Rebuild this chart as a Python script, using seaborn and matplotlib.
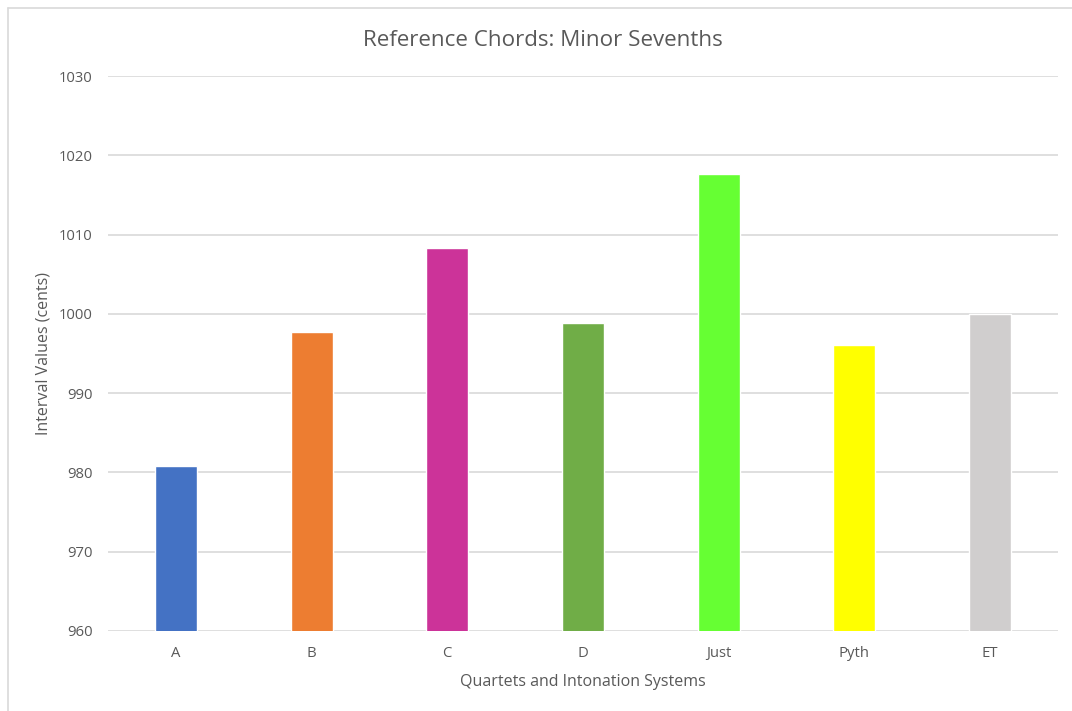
import matplotlib
matplotlib.use("Agg")
import matplotlib.pyplot as plt
from matplotlib.lines import Line2D
import seaborn as sns
import pandas as pd

# Minor seventh interval sizes (cents) per quartet and tuning system
categories = ["A", "B", "C", "D", "Just", "Pyth", "ET"]
cents = [980.8, 997.7, 1008.3, 998.8, 1017.6, 996.1, 1000.0]
bar_colors = ["#4472C4", "#ED7D31", "#CC3399", "#70AD47", "#66FF33", "#FFFF00", "#D0CECE"]
y_ticks = [960, 970, 980, 990, 1000, 1010, 1020, 1030]

df = pd.DataFrame({"group": categories, "cents": cents})

sns.set_theme(style="white")
plt.rcParams["font.family"] = ["Open Sans", "DejaVu Sans"]

text_color = "#595959"
grid_color = "#D9D9D9"

fig = plt.figure(figsize=(10.72, 7.11), dpi=100)
ax = fig.add_axes([108 / 1072, 1 - 631 / 711, 950 / 1072, 555 / 711])

sns.barplot(data=df, x="group", y="cents", hue="group", order=categories,
            palette=dict(zip(categories, bar_colors)), legend=False,
            width=0.31, saturation=1, ax=ax, zorder=3)

ax.set_ylim(960, 1030)
ax.set_xlim(-0.5, len(categories) - 0.5)
ax.set_yticks(y_ticks)
ax.set_yticklabels([str(t) for t in y_ticks])
ax.yaxis.grid(True, color=grid_color, linewidth=1.2, zorder=0)
ax.set_axisbelow(True)
for s in ax.spines.values():
    s.set_visible(False)
ax.tick_params(axis="both", length=0, labelsize=10.7, colors=text_color)
ax.tick_params(axis="y", pad=11)
ax.tick_params(axis="x", pad=11)

ax.set_xlabel("Quartets and Intonation Systems", fontsize=11.5, color=text_color, labelpad=9)
ax.set_ylabel("Interval Values (cents)", fontsize=11.5, color=text_color, labelpad=5)
fig.text(543 / 1072, 1 - 40 / 711, "Reference Chords: Minor Sevenths",
         ha="center", va="center", fontsize=16.1, color=text_color)

# Chart area frame
fig.add_artist(Line2D([7.5 / 1072, 7.5 / 1072], [0, 1 - 7.5 / 711],
                      color="#D9D9D9", linewidth=1.2, transform=fig.transFigure))
fig.add_artist(Line2D([7.5 / 1072, 1], [1 - 7.5 / 711, 1 - 7.5 / 711],
                      color="#D9D9D9", linewidth=1.2, transform=fig.transFigure))

fig.savefig("out.png", dpi=100, facecolor="white")
